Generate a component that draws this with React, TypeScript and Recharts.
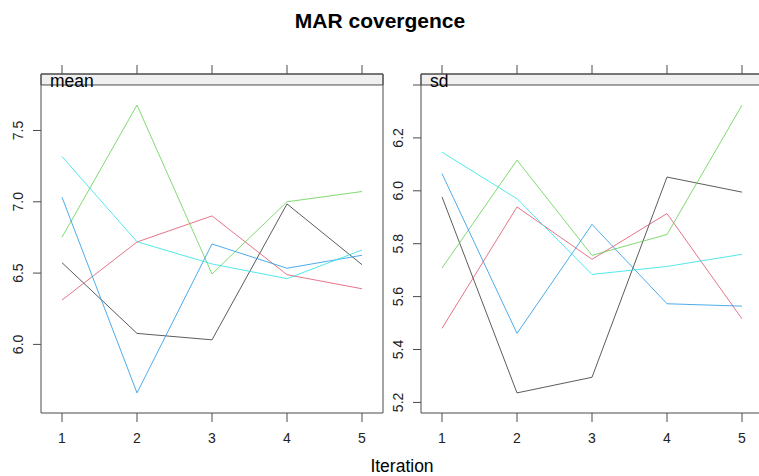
import React from 'react';
import { LineChart, Line, XAxis, YAxis, ReferenceArea } from 'recharts';

const iterations = [1, 2, 3, 4, 5];
const chainColors = ['#333333', '#DF536B', '#61D04F', '#2297E6', '#28E2E5'];

// MAR mean per chain
const meanChain1 = [6.573, 6.077, 6.032, 6.985, 6.559];
const meanChain2 = [6.311, 6.718, 6.901, 6.489, 6.39];
const meanChain3 = [6.751, 7.678, 6.494, 7.0, 7.072];
const meanChain4 = [7.032, 5.66, 6.704, 6.534, 6.625];
const meanChain5 = [7.317, 6.72, 6.564, 6.461, 6.662];

// MAR sd per chain
const sdChain1 = [5.977, 5.236, 5.295, 6.052, 5.995];
const sdChain2 = [5.48, 5.939, 5.741, 5.914, 5.516];
const sdChain3 = [5.708, 6.116, 5.756, 5.835, 6.324];
const sdChain4 = [6.065, 5.461, 5.873, 5.573, 5.564];
const sdChain5 = [6.146, 5.97, 5.684, 5.714, 5.76];

const meanTicks = [6.0, 6.5, 7.0, 7.5];
const sdTicks = [5.2, 5.4, 5.6, 5.8, 6.0, 6.2, 6.4];

const FRAME = '#4a4a4a';
const TEXT = '#222';
const FONT = '"Liberation Sans", Arial, sans-serif';

const toRows = (chains: number[][]) =>
  iterations.map((it, i) => {
    const row: Record<string, number> = { it };
    chains.forEach((c, k) => (row[`c${k + 1}`] = c[i]));
    return row;
  });

const meanData = toRows([meanChain1, meanChain2, meanChain3, meanChain4, meanChain5]);
const sdData = toRows([sdChain1, sdChain2, sdChain3, sdChain4, sdChain5]);

const XTick = (props: any) => (
  <text x={props.x} y={props.y + 16} textAnchor="middle" dominantBaseline="central"
    fontSize={14} fontFamily={FONT} fill={TEXT}>
    {props.payload.value}
  </text>
);

const makeYTick = (maxLabel: number) => (props: any) => {
  const v = props.payload.value;
  if (v > maxLabel) return <g />;
  const cx = props.x - 15;
  return (
    <text x={cx} y={props.y} transform={`rotate(-90 ${cx} ${props.y})`} textAnchor="middle"
      dominantBaseline="central" fontSize={14} fontFamily={FONT} fill={TEXT}>
      {v.toFixed(1)}
    </text>
  );
};

const StripLabel = (props: any) => {
  const vb = props.viewBox || { x: 0, y: 0 };
  return (
    <text x={vb.x + 9} y={vb.y + 12.5} fontSize={17.5} fontFamily={FONT} fill="#000">
      {props.text}
    </text>
  );
};

type PanelProps = {
  data: Record<string, number>[];
  name: string;
  domain: [number, number];
  stripFrom: number;
  ticks: number[];
  maxLabel: number;
};

const Panel = ({ data, name, domain, stripFrom, ticks, maxLabel }: PanelProps) => (
  <LineChart width={400} height={476} data={data} margin={{ top: 64, right: 16, bottom: 23, left: 0 }}>
    <XAxis xAxisId="bottom" dataKey="it" type="number" domain={[0.72, 5.28]} ticks={iterations}
      allowDataOverflow height={40} tickSize={9} tickMargin={0} stroke={FRAME} tick={<XTick />} />
    <XAxis xAxisId="top" orientation="top" dataKey="it" type="number" domain={[0.72, 5.28]}
      ticks={iterations} allowDataOverflow height={10} tickSize={9} stroke={FRAME} tick={() => <g />} />
    <YAxis yAxisId="left" type="number" domain={domain} ticks={ticks} allowDataOverflow width={41}
      tickSize={8} tickMargin={0} stroke={FRAME} tick={makeYTick(maxLabel)} />
    <YAxis yAxisId="r" orientation="right" type="number" domain={domain} allowDataOverflow width={1}
      tickLine={false} tick={() => <g />} stroke={FRAME} />
    <ReferenceArea xAxisId="bottom" yAxisId="left" y1={stripFrom} y2={domain[1]} fill="#f0f0f0"
      fillOpacity={1} stroke={FRAME} strokeWidth={1} label={<StripLabel text={name} />} />
    {chainColors.map((col, k) => (
      <Line key={k} xAxisId="bottom" yAxisId="left" type="linear" dataKey={`c${k + 1}`} stroke={col}
        strokeOpacity={0.8} strokeWidth={1} dot={false} activeDot={false} isAnimationActive={false} />
    ))}
  </LineChart>
);

export default function App() {
  return (
    <div style={{ position: 'absolute', left: 0, top: 0, width: 759, height: 476, overflow: 'hidden', background: '#fff' }}>
      <div style={{ position: 'absolute', left: 0, top: 0 }}>
        <Panel data={meanData} name="mean" domain={[5.519, 7.896]} stripFrom={7.819} ticks={meanTicks} maxLabel={7.6} />
      </div>
      <div style={{ position: 'absolute', left: 380, top: 0 }}>
        <Panel data={sdData} name="sd" domain={[5.16, 6.4416]} stripFrom={6.4} ticks={sdTicks} maxLabel={6.3} />
      </div>
      <svg width={759} height={476} style={{ position: 'absolute', left: 0, top: 0, pointerEvents: 'none' }}>
        <text x={380} y={28} textAnchor="middle" fontSize={21} fontWeight="bold" fontFamily={FONT} fill="#000">
          MAR covergence
        </text>
        <text x={402} y={472} textAnchor="middle" fontSize={17.5} fontFamily={FONT} fill="#000">
          Iteration
        </text>
      </svg>
    </div>
  );
}
